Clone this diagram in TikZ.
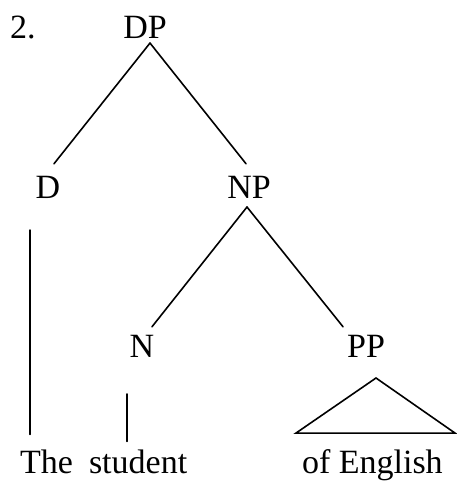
\documentclass[tikz,border=0pt]{standalone}
\usepackage{fontspec}
\setmainfont{Liberation Serif}
\begin{document}
\begin{tikzpicture}[x=1pt,y=-1pt,
  lbl/.style={inner sep=0pt,outer sep=0pt,anchor=base,font=\fontsize{34}{40}\selectfont},
  word/.style={lbl,anchor=base west},
  branch/.style={line width=1.6pt,line cap=round}]
\useasboundingbox (0,0) rectangle (456,484);

% category labels
\node[word] (num) at (10,39) {2.};
\node[lbl] (DP) at (145,39) {DP};
\node[lbl] (D)  at (48,198) {D};
\node[lbl] (NP) at (249,198) {NP};
\node[lbl] (N)  at (142,357) {N};
\node[lbl] (PP) at (366,357) {PP};

% terminal words
\node[word] (the)     at (20,473)  {The};
\node[word] (student) at (89,473)  {student};
\node[word] (ofeng)   at (302,473) {of English};

% branches
\draw[branch] ([shift={(5,4)}]DP.south) -- ([shift={(6,-12)}]D.north);
\draw[branch] ([shift={(5,4)}]DP.south) -- ([shift={(-3,-12)}]NP.north);
\draw[branch] ([shift={(-2,9)}]NP.south) -- ([shift={(10,-8)}]N.north);
\draw[branch] ([shift={(-2,9)}]NP.south) -- ([shift={(-23,-8)}]PP.north);
\draw[branch] ([shift={(-18,32)}]D.south) -- ([shift={(10,-15)}]the.north west);
\draw[branch] ([shift={(-15,37)}]N.south) -- ([shift={(38,-8)}]student.north west);

% roof over the PP
\draw[branch,line join=miter] ([shift={(10,21)}]PP.south)
  -- ([shift={(-6,-16)}]ofeng.north west)
  -- ([shift={(153,-16)}]ofeng.north west) -- cycle;
\end{tikzpicture}
\end{document}
